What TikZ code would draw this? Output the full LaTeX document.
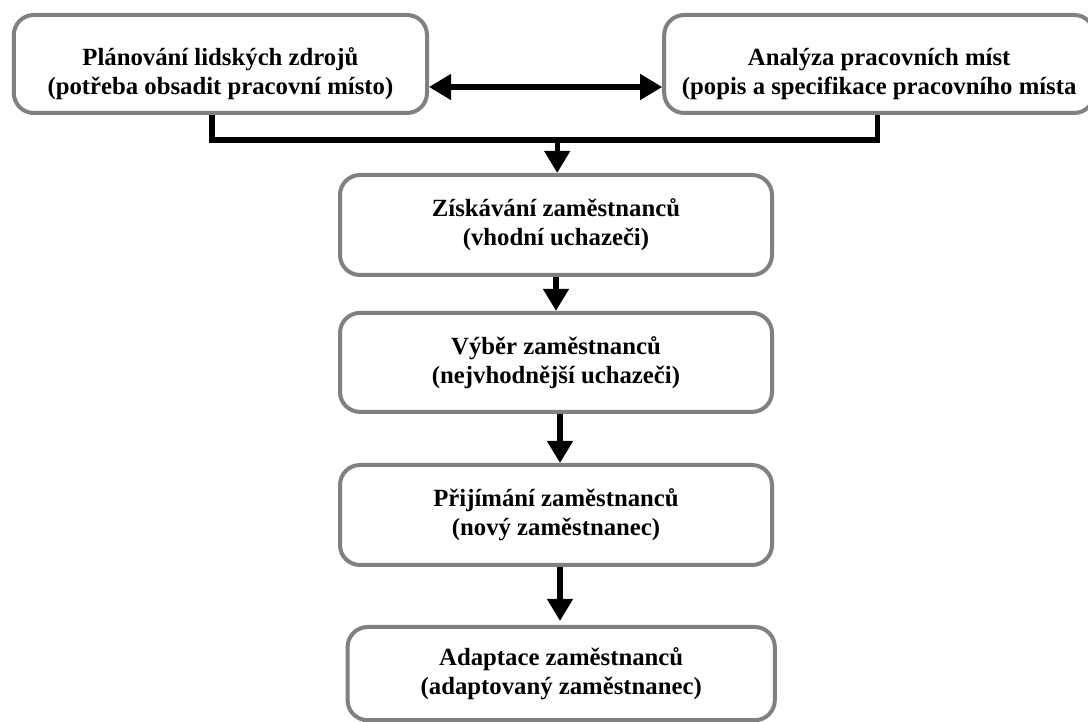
\documentclass[tikz,border=0pt]{standalone}
\usepackage{fontspec}
\setmainfont{Liberation Serif}
\usetikzlibrary{arrows.meta}
\newcommand{\decale}{\rule{0pt}{27pt}}
\begin{document}
\begin{tikzpicture}[
		>={Triangle[length=0.55cm,width=0.62cm]},
		etape/.style={draw=gray, line width=2.85pt, rounded corners=0.5cm, fill=white,
			minimum width=10.8cm, minimum height=2.5cm, align=center,
			font=\bfseries\fontsize{17.6}{20.5}\selectfont},
		trait/.style={line width=3.6pt},
		fleche/.style={trait, ->}
	]
	% Cadre
	\useasboundingbox (0,0) rectangle (27.2,18.05);

	% Etapes du haut
	\node[etape, minimum width=10.33cm, minimum height=2.45cm] (planovani) at (5.51,16.45)
		{\decale Plánování lidských zdrojů\\(potřeba obsadit pracovní místo)};
	\node[etape, minimum width=10.75cm, minimum height=2.45cm] (analyza) at (21.98,16.45)
		{\decale Analýza pracovních míst\\(popis a specifikace pracovního místa};

	% Etapes centrales
	\node[etape] (ziskavani) at (13.9,12.425) {Získávání zaměstnanců\\(vhodní uchazeči)};
	\node[etape, minimum height=2.475cm] (vyber) at (13.9,8.99) {Výběr zaměstnanců\\(nejvhodnější uchazeči)};
	\node[etape] (prijimani) at (13.9,5.175) {Přijímání zaměstnanců\\(nový zaměstnanec)};
	\node[etape, minimum width=10.68cm, minimum height=2.33cm] (adaptace) at (14.03,1.21)
		{Adaptace zaměstnanců\\(adaptovaný zaměstnanec)};

	% Double fleche
	\draw[trait, <->] ([yshift=-0.575cm]planovani.east) -- ([yshift=-0.575cm]analyza.west);

	% Jonction
	\coordinate (jonction) at (13.93,14.55);
	\draw[trait] ([xshift=-0.21cm]planovani.south) |- (jonction) -| ([xshift=-0.05cm]analyza.south);
	\draw[fleche] (jonction) -- (jonction |- ziskavani.north);

	% Fleches verticales
	\draw[fleche] (ziskavani.south) -- (vyber.north);
	\draw[fleche] ([xshift=0.1cm]vyber.south) -- ([xshift=0.1cm]vyber.south |- prijimani.north);
	\draw[fleche] ([xshift=0.1cm]prijimani.south) -- ([xshift=0.1cm,yshift=0.1cm]prijimani.south |- adaptace.north);
\end{tikzpicture}
\end{document}
